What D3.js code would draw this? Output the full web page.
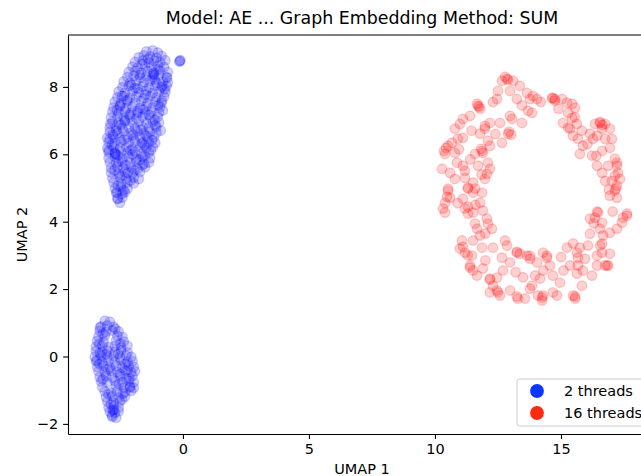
<!DOCTYPE html>
<html>
<head>
<meta charset="utf-8">
<script src="https://cdn.jsdelivr.net/npm/d3@7"></script>
<style>
body { margin: 0; background: #fff; }
text { font-family: "DejaVu Sans", sans-serif; }
</style>
</head>
<body>
<svg id="chart"></svg>
<script>
var TITLE = "Model: AE ... Graph Embedding Method: SUM";
var X_LABEL = "UMAP 1", Y_LABEL = "UMAP 2";
var SERIES = ["2 threads", "16 threads"];
var X_TICKS = [0, 5, 10, 15];
var Y_TICKS = [-2, 0, 2, 4, 6, 8];

// 2 threads: upper cluster then lower cluster
var threads2 = [
  [-1.45,9.05],[-1.2,9.08],[-1.0,9.02],
  [-1.75,8.88],[-1.55,8.93],[-1.3,8.9],[-1.05,8.86],[-0.85,8.92],
  [-1.9,8.74],[-1.6,8.78],[-1.35,8.72],[-1.15,8.77],[-0.9,8.73],[-0.7,8.79],
  [-2.0,8.6],[-1.8,8.57],[-1.5,8.62],[-1.25,8.58],[-1.0,8.63],[-0.75,8.59],
  [-2.15,8.44],[-1.9,8.47],[-1.65,8.42],[-1.4,8.46],[-1.15,8.43],[-0.9,8.48],[-0.6,8.44],
  [-2.2,8.29],[-1.95,8.32],[-1.7,8.27],[-1.45,8.31],[-1.2,8.28],[-0.95,8.33],[-0.65,8.29],
  [-2.35,8.16],[-2.1,8.13],[-1.85,8.17],[-1.55,8.14],[-1.3,8.18],[-1.05,8.12],[-0.8,8.16],[-0.6,8.13],
  [-2.4,7.99],[-2.15,8.02],[-1.9,7.97],[-1.6,8.01],[-1.35,7.98],[-1.1,8.03],[-0.85,7.99],[-0.65,8.02],
  [-2.55,7.86],[-2.3,7.83],[-2.0,7.87],[-1.75,7.84],[-1.45,7.88],[-1.2,7.82],[-0.95,7.86],[-0.7,7.84],
  [-2.6,7.69],[-2.35,7.72],[-2.1,7.68],[-1.85,7.71],[-1.55,7.67],[-1.3,7.72],[-1.05,7.69],[-0.75,7.71],
  [-2.7,7.56],[-2.45,7.53],[-2.2,7.57],[-1.9,7.54],[-1.65,7.58],[-1.4,7.52],[-1.1,7.56],[-0.85,7.53],
  [-2.75,7.39],[-2.5,7.42],[-2.25,7.38],[-2.0,7.41],[-1.7,7.37],[-1.45,7.42],[-1.2,7.39],[-0.9,7.41],
  [-2.8,7.26],[-2.55,7.23],[-2.3,7.27],[-2.05,7.24],[-1.8,7.28],[-1.5,7.22],[-1.25,7.26],[-0.95,7.24],
  [-2.85,7.09],[-2.6,7.12],[-2.35,7.08],[-2.1,7.11],[-1.85,7.07],[-1.6,7.12],[-1.3,7.09],[-1.0,7.11],
  [-2.8,6.96],[-2.55,6.93],[-2.3,6.97],[-2.0,6.94],[-1.75,6.98],[-1.45,6.92],[-1.2,6.96],[-0.95,6.94],
  [-2.9,6.79],[-2.65,6.82],[-2.4,6.78],[-2.15,6.81],[-1.9,6.77],[-1.6,6.82],[-1.35,6.79],[-1.05,6.81],
  [-2.9,6.66],[-2.6,6.63],[-2.35,6.67],[-2.05,6.64],[-1.8,6.68],[-1.55,6.62],[-1.3,6.66],[-1.05,6.64],
  [-3.0,6.49],[-2.75,6.52],[-2.5,6.48],[-2.2,6.51],[-1.95,6.47],[-1.7,6.52],[-1.4,6.49],[-1.15,6.51],
  [-2.95,6.36],[-2.7,6.33],[-2.45,6.37],[-2.15,6.34],[-1.9,6.38],[-1.6,6.32],[-1.35,6.36],[-1.1,6.34],
  [-3.0,6.19],[-2.75,6.22],[-2.5,6.18],[-2.25,6.21],[-2.0,6.17],[-1.7,6.22],[-1.45,6.19],[-1.2,6.21],
  [-2.95,6.06],[-2.7,6.03],[-2.45,6.07],[-2.2,6.04],[-1.9,6.08],[-1.65,6.02],[-1.35,6.06],
  [-2.95,5.89],[-2.7,5.92],[-2.4,5.88],[-2.15,5.91],[-1.85,5.87],[-1.6,5.92],[-1.3,5.89],
  [-2.9,5.76],[-2.65,5.73],[-2.4,5.77],[-2.1,5.74],[-1.85,5.78],[-1.55,5.72],[-1.35,5.76],
  [-2.85,5.59],[-2.6,5.62],[-2.35,5.58],[-2.05,5.61],[-1.8,5.57],[-1.5,5.62],
  [-2.85,5.46],[-2.55,5.43],[-2.3,5.47],[-2.0,5.44],[-1.7,5.48],
  [-2.8,5.29],[-2.5,5.32],[-2.25,5.28],[-1.95,5.31],[-1.75,5.27],
  [-2.75,5.16],[-2.45,5.13],[-2.2,5.17],[-1.95,5.14],
  [-2.7,4.99],[-2.45,5.02],[-2.2,4.98],
  [-2.65,4.86],[-2.4,4.83],[-2.3,4.88],
  [-2.6,4.69],[-2.4,4.72],
  [-2.5,4.56],
  [-0.12,8.77],[-0.1,8.79],[-0.14,8.75],
  [-1.19,8.39],[-1.15,8.36],[-0.63,8.27],[-2.42,7.73],[-1.79,7.23],[-0.83,7.59],[-2.7,6.04],
  [-2.66,6.0],[-1.63,6.34],[-2.18,5.45],[-2.62,4.86],[-2.58,4.68],[-1.51,5.96],[-2.9,6.46],
  [-1.38,8.83],[-0.98,8.52],[-1.72,8.36],[-2.05,8.06],[-0.72,7.93],[-1.48,7.77],[-2.22,7.61],
  [-0.98,7.46],[-1.58,7.33],[-2.62,7.31],[-2.12,7.17],[-1.12,7.02],[-2.47,6.88],[-1.67,6.73],
  [-0.88,6.70],[-2.78,6.58],[-1.98,6.57],[-1.22,6.42],[-2.33,6.43],[-2.82,6.27],[-1.52,6.26],
  [-2.08,6.12],[-1.27,6.12],[-2.58,5.97],[-1.72,5.83],[-2.28,5.68],[-2.72,5.52],[-1.92,5.52],
  [-2.42,5.37],[-2.08,5.22],[-2.58,5.07],[-2.35,4.93],[-0.82,8.02],[-1.62,8.68],[-1.12,8.22],
  [-2.5,7.45],[-1.35,7.17],[-0.8,7.3],[-2.0,6.0],[-1.45,6.55],[-2.65,6.7],[-1.8,7.95],
  [-2.3,7.0],[-1.1,6.85],[-2.95,6.12],[-2.55,5.78],[-1.6,5.68],[-2.88,6.9],
  // lower cluster
  [-3.1,1.06],[-2.9,1.03],
  [-3.25,0.89],[-3.0,0.92],[-2.75,0.88],
  [-3.3,0.76],[-3.05,0.73],[-2.8,0.77],[-2.55,0.74],
  [-3.35,0.59],[-3.1,0.62],[-2.6,0.61],[-2.4,0.58],
  [-3.4,0.46],[-3.15,0.43],[-2.65,0.47],[-2.35,0.44],
  [-3.45,0.29],[-3.2,0.32],[-2.95,0.28],[-2.7,0.31],[-2.45,0.27],[-2.2,0.32],
  [-3.45,0.16],[-3.2,0.13],[-3.0,0.17],[-2.7,0.14],[-2.45,0.18],[-2.2,0.12],
  [-3.5,-0.01],[-3.25,0.02],[-3.0,-0.02],[-2.75,0.01],[-2.5,-0.03],[-2.25,0.02],[-2.05,-0.01],
  [-3.45,-0.14],[-3.2,-0.17],[-2.95,-0.13],[-2.7,-0.16],[-2.45,-0.12],[-2.2,-0.17],[-2.0,-0.14],
  [-3.4,-0.31],[-3.15,-0.28],[-2.9,-0.32],[-2.65,-0.29],[-2.4,-0.33],[-2.15,-0.28],[-1.95,-0.31],
  [-3.35,-0.44],[-3.1,-0.47],[-2.85,-0.43],[-2.6,-0.46],[-2.3,-0.42],[-2.05,-0.47],[-1.9,-0.44],
  [-3.3,-0.61],[-3.05,-0.58],[-2.8,-0.62],[-2.5,-0.59],[-2.25,-0.63],[-2.0,-0.58],
  [-3.25,-0.74],[-3.0,-0.77],[-2.7,-0.73],[-2.4,-0.76],[-2.15,-0.72],[-1.95,-0.77],
  [-3.2,-0.91],[-2.65,-0.88],[-2.35,-0.92],[-2.1,-0.89],[-1.95,-0.93],
  [-3.1,-1.04],[-2.85,-1.07],[-2.6,-1.03],[-2.3,-1.06],[-2.05,-1.02],
  [-3.05,-1.21],[-2.8,-1.18],[-2.55,-1.22],[-2.3,-1.19],
  [-3.0,-1.34],[-2.75,-1.37],[-2.5,-1.33],
  [-2.95,-1.51],[-2.75,-1.48],[-2.55,-1.52],
  [-2.9,-1.64],[-2.7,-1.67],[-2.55,-1.63],
  [-2.8,-1.79],[-2.65,-1.82],
  [-3.29,0.86],[-3.41,-0.12],[-2.38,-1.1],[-2.1,-0.92],[-2.78,-1.6],[-2.82,-1.75],[-2.74,-1.58],
  [-3.18,0.68],[-2.68,0.82],[-3.32,0.38],[-2.48,0.38],[-3.05,0.06],[-2.58,0.08],[-3.32,-0.22],
  [-2.28,-0.22],[-2.98,-0.38],[-2.48,-0.52],[-3.18,-0.68],[-2.12,-0.66],[-2.55,-0.82],
  [-2.95,-1.12],[-2.42,-1.28],[-2.86,-1.42],[-2.2,-0.4],[-3.3,0.1]
];

// 16 threads: the ring on the right
var threads16 = [
  [12.86,8.24],[13.10,8.18],[12.66,8.18],[13.37,8.03],[13.65,7.82],[13.77,7.64],[13.69,7.29],
  [13.25,7.64],[12.98,7.88],[12.50,7.88],[12.46,7.64],[11.71,7.44],[11.79,7.35],[11.39,7.14],
  [11.11,7.05],[10.99,6.90],[10.79,6.76],[11.98,6.84],[11.98,6.76],[12.18,6.93],[12.58,6.93],
  [12.98,7.14],[13.06,7.05],[13.45,6.93],[12.90,6.61],[12.66,6.34],[11.79,6.61],[12.10,6.40],
  [11.87,6.10],[11.90,6.04],[12.18,6.25],[11.59,6.01],[10.67,6.34],[10.52,6.25],[10.40,6.01],
  [11.11,6.49],[10.91,6.46],[10.79,6.04],[10.28,5.57],[10.87,5.75],[11.11,5.66],[11.19,5.51],
  [11.71,5.66],[12.10,5.75],[12.18,5.57],[12.06,5.42],[11.98,5.27],[10.79,5.27],[11.51,5.16],
  [10.52,4.98],[11.31,5.01],[11.59,4.98],
  [13.89,7.73],[13.85,7.23],[14.05,7.64],[14.64,7.67],[14.76,7.64],[15.04,7.64],[15.24,7.53],
  [15.44,7.50],[15.56,7.38],[15.28,7.23],[15.44,7.08],[15.08,6.93],[15.28,6.79],[15.36,6.76],
  [15.63,6.90],[15.48,6.55],[15.67,6.46],[15.83,6.70],[15.87,6.25],[15.75,6.01],[16.23,5.96],
  [16.35,6.90],[16.55,6.93],[16.75,6.90],[16.94,6.76],[16.63,6.76],[16.43,6.55],[16.27,6.46],
  [16.15,6.61],[16.75,6.46],[17.02,6.46],[16.94,6.19],[16.63,6.10],[16.43,5.66],[16.63,5.45],
  [16.87,5.66],[17.14,5.87],[17.22,5.66],[17.26,5.45],[17.34,5.27],[17.14,5.36],[17.02,5.21],
  [17.22,5.07],[16.75,5.21],
  [10.52,4.92],[10.60,4.71],[10.40,4.56],[10.32,4.39],[10.40,4.27],[11.11,4.68],[11.31,4.98],
  [11.51,4.86],[11.87,4.86],[11.79,4.56],[11.19,4.39],[11.31,4.24],[11.51,4.27],[11.90,4.33],
  [11.59,3.94],[11.67,3.79],[12.06,4.09],[12.10,3.94],[12.26,3.79],[11.79,3.59],[11.51,3.44],
  [11.07,3.44],[10.99,3.20],[11.19,3.08],[11.47,2.99],[11.87,3.23],[12.30,3.23],[12.78,3.44],
  [12.86,3.29],[12.66,2.93],[12.98,2.79],[13.25,3.08],[13.37,3.05],[13.65,2.99],[13.77,2.90],
  [11.39,2.70],[11.51,2.55],[11.67,2.40],[11.90,2.61],[12.18,2.31],[12.46,2.34],[12.30,2.10],
  [12.50,1.90],[12.58,1.81],[12.18,1.90],[12.98,1.96],[13.29,1.72],[13.57,1.72],[13.77,2.01],
  [17.14,4.92],[17.22,4.71],[16.94,4.77],[16.47,4.27],[16.35,4.12],[16.15,4.09],[16.63,3.97],
  [16.55,3.79],[16.67,3.59],[16.94,3.67],[17.22,3.79],[17.46,4.12],[17.62,4.18],[17.42,3.97],
  [16.55,3.29],[16.63,3.08],[16.94,3.05],[16.43,2.99],[16.15,3.64],[16.07,3.29],[15.75,3.23],
  [15.63,3.08],[15.48,3.35],[15.24,3.23],[15.67,2.93],[15.67,2.70],[15.36,2.70],[15.87,2.55],
  [16.23,2.40],[16.43,2.70],[16.75,2.70],[16.87,2.70],[15.63,2.46],[15.83,2.10],[15.48,1.81],
  [15.56,1.72],[14.96,2.19],[14.84,1.81],[14.68,1.90],[14.29,1.81],[14.25,1.66],[14.09,1.81],
  [14.56,2.70],[14.44,2.99],[14.29,3.08],[14.05,2.79],[13.97,2.40],[14.17,2.31],[14.68,2.40],
  [13.85,2.10],[13.77,2.99],
  [12.78,8.30],[12.90,8.21],[11.67,7.50],[11.75,7.41],[10.44,6.19],[10.36,6.10],[11.83,6.16],
  [12.94,6.67],[13.02,6.58],[14.68,7.67],[14.76,7.59],[16.55,6.96],[16.63,6.87],[17.22,5.75],
  [17.18,4.98],[17.62,4.24],[16.43,4.30],[16.63,3.35],[16.83,2.70],[15.56,1.78],[14.25,1.75],
  [13.25,1.78],[12.46,1.96],[12.18,2.28],[11.39,2.64],[11.11,3.26],[10.48,4.74],[11.31,4.44],
  [11.19,5.30],[13.25,3.11],[14.44,2.93],
  [12.3,7.55],[13.45,7.45],[11.45,6.7],[10.95,6.15],[12.4,6.6],[11.4,5.85],[10.6,5.45],
  [11.85,5.4],[10.9,4.55],[11.6,4.5],[12.0,3.65],[11.3,3.0],[12.0,2.85],[12.7,2.55],
  [13.5,2.35],[14.3,2.55],[15.1,2.55],[15.95,2.9],[16.3,3.95],[17.05,4.3],[16.9,4.95],
  [16.4,5.95],[16.05,6.3],[15.55,7.1],[14.9,7.35],[14.2,7.55],[15.0,2.95],[13.2,2.5]
];

var SERIES_COLOR = ["#0000ff", "#ff0000"];
var LEGEND_COLOR = ["#0a36ff", "#ff2a0f"];

var W = 641, H = 476;
var svg = d3.select("#chart").attr("width", W).attr("height", H);

var x = d3.scaleLinear().domain([-4.56, 18.77]).range([68, 656]);
var y = d3.scaleLinear().domain([-2.30, 9.54]).range([434, 35]);

var minus = function(d) { return d < 0 ? "\u2212" + Math.abs(d) : String(d); };
var FS = "14.5px";

// points
[threads2, threads16].forEach(function(pts, k) {
  svg.append("g").selectAll("circle").data(pts).enter().append("circle")
    .attr("cx", function(d) { return x(d[0]); })
    .attr("cy", function(d) { return y(d[1]); })
    .attr("r", 4.8)
    .attr("fill", SERIES_COLOR[k])
    .attr("fill-opacity", 0.18)
    .attr("stroke", SERIES_COLOR[k])
    .attr("stroke-opacity", 0.18)
    .attr("stroke-width", 1.4);
});

// axes
var xAxis = svg.append("g").attr("transform", "translate(0,434)")
  .call(d3.axisBottom(x).tickValues(X_TICKS).tickFormat(minus).tickSize(4.9).tickPadding(4.9).tickSizeOuter(0));
var yAxis = svg.append("g").attr("transform", "translate(68,0)")
  .call(d3.axisLeft(y).tickValues(Y_TICKS).tickFormat(minus).tickSize(4.9).tickPadding(4.9).tickSizeOuter(0));
[xAxis, yAxis].forEach(function(a) {
  a.select(".domain").attr("stroke", "#000").attr("stroke-width", 1.1);
  a.selectAll(".tick line").attr("stroke", "#000").attr("stroke-width", 1.1);
  a.selectAll(".tick text").attr("fill", "#000").style("font-size", FS)
    .style("font-family", "'DejaVu Sans', sans-serif");
});

// top and right spines
svg.append("line").attr("x1", 68).attr("x2", 656).attr("y1", 35).attr("y2", 35)
  .attr("stroke", "#000").attr("stroke-width", 1.1);
svg.append("line").attr("x1", 656).attr("x2", 656).attr("y1", 35).attr("y2", 434)
  .attr("stroke", "#000").attr("stroke-width", 1.1);

// titles
svg.append("text").attr("x", 362).attr("y", 24).attr("text-anchor", "middle")
  .style("font-size", "17.4px").text(TITLE);
svg.append("text").attr("x", 362).attr("y", 474).attr("text-anchor", "middle")
  .style("font-size", FS).text(X_LABEL);
svg.append("text").attr("transform", "translate(27,234.5) rotate(-90)").attr("text-anchor", "middle")
  .style("font-size", FS).text(Y_LABEL);

// legend
var leg = svg.append("g");
leg.append("rect").attr("x", 517).attr("y", 379).attr("width", 132).attr("height", 47)
  .attr("rx", 2.8).attr("fill", "#fff").attr("fill-opacity", 0.8)
  .attr("stroke", "#cccccc").attr("stroke-width", 1);
SERIES.forEach(function(s, i) {
  var cy = 391 + i * 22;
  leg.append("circle").attr("cx", 537).attr("cy", cy).attr("r", 6.9).attr("fill", LEGEND_COLOR[i]);
  leg.append("text").attr("x", 564).attr("y", cy + 5).style("font-size", FS).text(s);
});
</script>
</body>
</html>
